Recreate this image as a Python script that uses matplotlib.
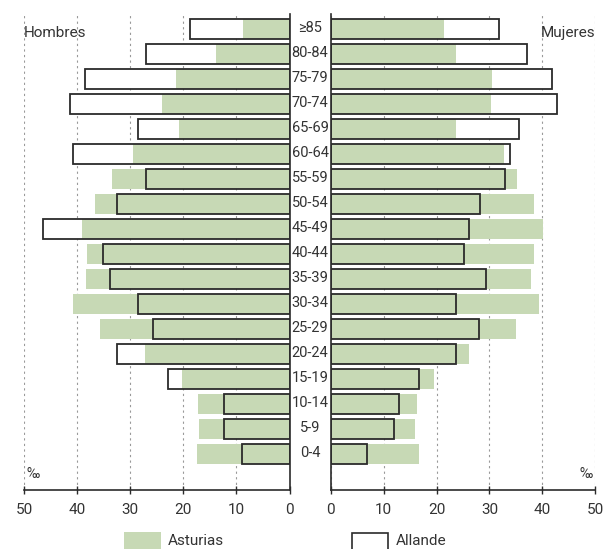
import matplotlib
matplotlib.use("Agg")
import matplotlib.pyplot as plt
from matplotlib.patches import Rectangle

# ---- data (per mille) ----
age_groups = ["≥85", "80-84", "75-79", "70-74", "65-69", "60-64", "55-59", "50-54",
              "45-49", "40-44", "35-39", "30-34", "25-29", "20-24", "15-19", "10-14",
              "5-9", "0-4"]
hombres_asturias = [8.8, 13.9, 21.4, 24.0, 20.8, 29.5, 33.5, 36.7, 39.0, 38.2, 38.4,
                    40.8, 35.6, 27.3, 20.3, 17.3, 17.1, 17.5]
hombres_allande = [18.7, 27.1, 38.5, 41.3, 28.5, 40.8, 27.1, 32.4, 46.5, 35.1, 33.8,
                   28.6, 25.8, 32.4, 22.9, 12.3, 12.3, 9.0]
mujeres_asturias = [21.4, 23.6, 30.4, 30.2, 23.6, 32.7, 35.2, 38.5, 40.1, 38.5, 37.8,
                    39.3, 35.0, 26.1, 19.5, 16.3, 15.9, 16.7]
mujeres_allande = [31.8, 37.1, 41.8, 42.8, 35.6, 33.8, 32.9, 28.2, 26.2, 25.2, 29.4,
                   23.6, 28.1, 23.6, 16.7, 12.9, 12.0, 6.8]
xticks = [0, 10, 20, 30, 40, 50]

# ---- style ----
plt.rcParams['font.family'] = ['Roboto', 'DejaVu Sans']
GREEN = "#c7d9b5"
EDGE = "#2b2b2b"
TXT = "#333333"

fig = plt.figure(figsize=(6.05, 5.49), dpi=100)
axL = fig.add_axes([24/605, 59/549, 265.5/605, 476/549])
axR = fig.add_axes([330.7/605, 59/549, 264.6/605, 476/549])

n = len(age_groups)
ypos = [n - 1 - i for i in range(n)]
h = 0.82

for ax, ast, alla in [(axL, hombres_asturias, hombres_allande),
                      (axR, mujeres_asturias, mujeres_allande)]:
    ax.barh(ypos, alla, height=h, color="white", edgecolor="none", zorder=1)
    ax.barh(ypos, ast, height=h, color=GREEN, edgecolor="none", zorder=2)
    ax.barh(ypos, alla, height=h, fill=False, edgecolor=EDGE, linewidth=1.3, zorder=3)
    ax.set_xlim(0, 50)
    ax.set_ylim(-1.45, n - 1 + 0.6)
    ax.set_xticks(xticks)
    ax.set_yticks([])
    ax.xaxis.grid(True, linestyle=(0, (2, 3)), color="#999999", linewidth=0.8, zorder=0)
    ax.set_axisbelow(True)
    for s in ["top", "left", "right"]:
        ax.spines[s].set_visible(False)
    ax.spines["bottom"].set_color(EDGE)
    ax.spines["bottom"].set_linewidth(1.2)
    ax.tick_params(axis="x", direction="inout", length=6, width=1.0, color=EDGE,
                   labelsize=11, labelcolor=TXT, pad=6)

axL.invert_xaxis()
axL.spines["right"].set_visible(True)
axL.spines["right"].set_color(EDGE)
axL.spines["right"].set_linewidth(1.2)
axR.spines["left"].set_visible(True)
axR.spines["left"].set_color(EDGE)
axR.spines["left"].set_linewidth(1.2)

# age labels in the middle
for y, lab in zip(ypos, age_groups):
    axR.text(-3.9, y + 0.05, lab, ha="center", va="center", fontsize=10.5, color=TXT,
             clip_on=False)

axL.text(50, n - 1 - 0.15, "Hombres", ha="left", va="center", fontsize=11, color=TXT)
axR.text(50, n - 1 - 0.15, "Mujeres", ha="right", va="center", fontsize=11, color=TXT)
axL.text(49.5, -0.8, "‰", ha="left", va="center", fontsize=10, color=TXT)
axR.text(49.5, -0.8, "‰", ha="right", va="center", fontsize=10, color=TXT)

# legend
fig.patches.append(Rectangle((123.5/605, 0), 37.5/605, 17/549, transform=fig.transFigure,
                             facecolor=GREEN, edgecolor="none"))
fig.text(167.5/605, 8/549, "Asturias", ha="left", va="center", fontsize=11, color=TXT)
fig.patches.append(Rectangle((352/605, -5/549), 36/605, 21.5/549, transform=fig.transFigure,
                             facecolor="white", edgecolor=EDGE, linewidth=1.2))
fig.text(395.5/605, 8/549, "Allande", ha="left", va="center", fontsize=11, color=TXT)

fig.savefig("out.png", dpi=100)
